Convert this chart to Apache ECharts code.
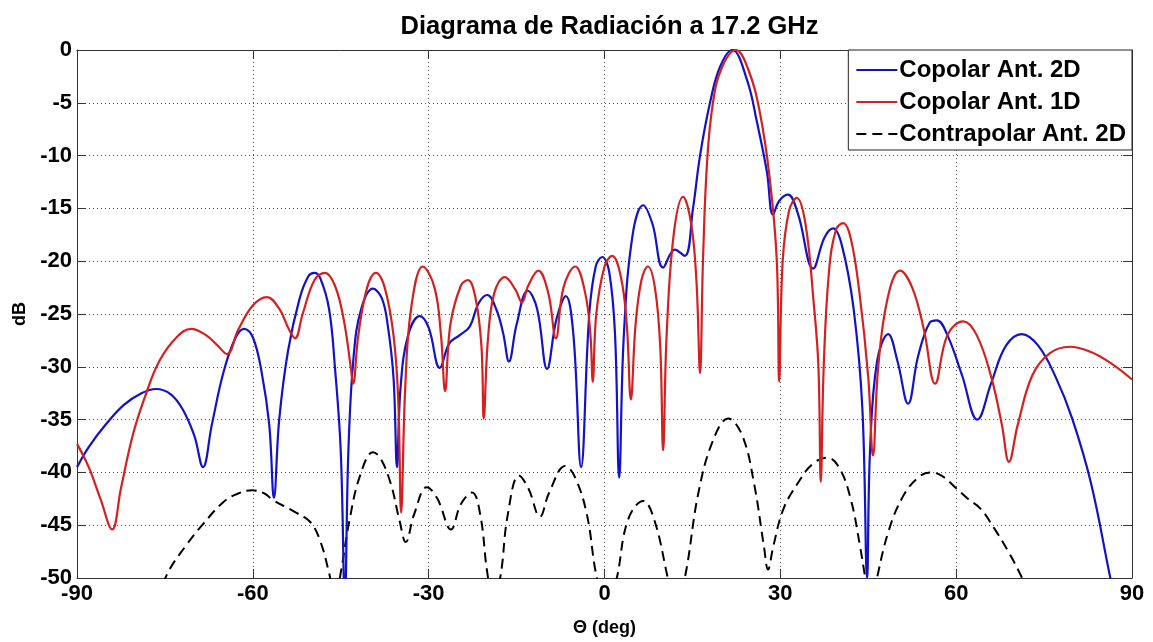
<!DOCTYPE html>
<html>
<head>
<meta charset="utf-8">
<script src="https://cdn.jsdelivr.net/npm/echarts@6/dist/echarts.min.js"></script>
<style>
html,body{margin:0;padding:0;background:#fff;}
#chart{width:1153px;height:642px;}
</style>
</head>
<body>
<div id="chart"></div>
<script>
// ---- data (theta in deg, level in dB) ----
const titleText = 'Diagrama de Radiación a 17.2 GHz';
const seriesNames = ['Copolar Ant. 2D', 'Copolar Ant. 1D', 'Contrapolar Ant. 2D'];
const xTicks = [-90, -60, -30, 0, 30, 60, 90];
const yTicks = [-50, -45, -40, -35, -30, -25, -20, -15, -10, -5, 0];

const copolar2D = [
  [-90,-39.5],[-88,-37.6],[-85,-35.4],[-82,-33.6],[-79,-32.5],[-76.5,-32.1],[-74,-32.6],[-72,-34.0],[-70,-36.5],[-68.5,-39.5],
  [-67,-35.5],[-65,-30.5],[-63,-27.3],[-61.5,-26.4],[-60,-27.2],[-58.5,-30.5],[-57.2,-35.5],[-56.4,-42.4],[-55.5,-35],[-54,-28.5],
  [-52,-23.5],[-50.5,-21.4],[-49.5,-21.1],[-48.5,-21.6],[-47,-24.5],[-46,-30],[-45,-38],[-44.3,-52],[-43.7,-38],[-42.8,-29],
  [-41.5,-24.5],[-39.5,-22.6],[-38,-23.5],[-37,-26],[-36,-31],[-35.4,-39.5],[-34.8,-32],[-33.5,-27],[-31.5,-25.2],[-30,-26.3],
  [-28.1,-30.1],[-26.5,-27.8],[-24.7,-27],[-23,-26.2],[-21.5,-24],[-20,-23.2],[-18.5,-24.5],[-17.3,-26.8],[-16.3,-29.5],[-15,-26],
  [-13.1,-22.8],[-11.5,-24.5],[-9.8,-30.2],[-8.2,-25.5],[-6.6,-23.3],[-5.3,-27],[-4.0,-39.5],[-2.6,-25],[-1.5,-20.5],[-0.4,-19.6],
  [0.8,-21],[1.8,-27],[2.5,-40.5],[3.3,-27],[4.8,-17.5],[6.6,-14.7],[8.2,-16.5],[10,-20.6],[12,-18.9],[13.7,-19.5],
  [15.1,-15],[16.3,-10],[18,-5],[19.7,-1.6],[21.8,0],[24.3,-2.8],[26,-6.8],[27.7,-11.5],[28.75,-15.6],[29.8,-14.3],
  [31.3,-13.7],[33,-15.5],[35.6,-20.7],[37.5,-17.8],[39,-16.9],[40.5,-18.5],[42.5,-24.5],[44,-34],[44.8,-50],[45.3,-38],
  [46.5,-29.5],[48.4,-26.9],[50,-29.5],[51.8,-33.5],[53.5,-29],[55.5,-25.8],[56.7,-25.6],[58.5,-27],[61,-30.8],[63.6,-35.0],
  [66,-31.5],[68.5,-28],[71.2,-26.9],[74,-28],[77,-31],[79.8,-34.9],[83,-41],[86.3,-50],[87.5,-53]
];

const copolar1D = [
  [-90,-37.3],[-88,-39.5],[-86,-42.5],[-84,-45.4],[-82.5,-41.5],[-80.5,-36.5],[-78.5,-33],[-76,-29.5],[-73,-27.2],[-70.5,-26.4],
  [-68,-27],[-66,-28],[-64.4,-28.8],[-62.5,-26.5],[-60,-24.2],[-57.6,-23.4],[-55.5,-24.5],[-53.8,-26.5],[-52.8,-27.3],[-51.5,-25],
  [-49.5,-21.8],[-47.7,-21.1],[-46,-22.3],[-44.5,-25.5],[-43.3,-30],[-42.9,-31.6],[-42,-27],[-40.5,-22.5],[-39,-21.1],[-37.5,-22.5],
  [-36,-27],[-35.2,-33],[-34.7,-43.8],[-34,-32],[-33,-24.5],[-31,-20.5],[-29,-22.5],[-27.9,-27],[-27.2,-32.3],[-26.3,-26],
  [-24.5,-22.3],[-23.3,-21.8],[-22,-23.5],[-21,-28],[-20.6,-34.9],[-19.9,-27.5],[-18.8,-23],[-17,-21.5],[-15.2,-22.7],[-14.1,-23.9],
  [-13,-22.3],[-11.3,-20.9],[-9.6,-23],[-8.3,-27.3],[-7,-22.5],[-5,-20.5],[-3.3,-23],[-2.4,-27],[-2,-31.4],[-1.4,-25],
  [0,-20.5],[1.3,-19.5],[2.8,-21.5],[3.8,-26],[4.5,-33.1],[5.3,-26],[6.3,-21.8],[7.4,-20.5],[8.6,-22.5],[9.5,-28],
  [10.0,-37.9],[10.6,-27],[11.8,-17.5],[13.4,-13.9],[14.8,-16.5],[15.7,-22],[16.3,-30.6],[16.8,-20],[17.5,-10.6],[18.5,-5],
  [20,-1.7],[22.4,0],[24.5,-1.8],[26.5,-5.9],[28.2,-12.2],[29.4,-20],[29.8,-31.4],[30.4,-20],[31.5,-15.2],[32.8,-14.0],
  [34.3,-16.5],[35.7,-24],[36.5,-30],[36.9,-40.9],[37.4,-30],[38.3,-21],[39.5,-17],[40.7,-16.4],[42,-17.8],[43.5,-23],
  [45,-31],[45.8,-38.4],[46.7,-30],[48.3,-23.5],[50.4,-20.9],[52.5,-22.5],[54.5,-26.5],[56.4,-31.6],[58.5,-27],[61.2,-25.7],
  [63.5,-27],[66,-31],[67.8,-35.5],[69,-39],[70.5,-35.5],[73,-30.8],[76,-28.7],[79.4,-28.1],[83,-28.6],[86.5,-29.7],[90,-31.2]
];

const contrapolar2D = [
  [-76,-52],[-74.6,-49.6],[-71.5,-47],[-68.5,-44.9],[-65,-42.8],[-62.5,-42],[-60.1,-41.7],[-58,-42],[-56.6,-42.6],[-53,-43.7],
  [-50.2,-44.7],[-48.5,-46.5],[-47,-49.5],[-46,-52],[-45,-49.5],[-43.5,-44.5],[-41.7,-40.3],[-39.5,-38.1],[-38.3,-38.6],[-36.5,-41],
  [-35,-44.5],[-33.9,-46.6],[-32.5,-44],[-30.3,-41.4],[-28.5,-42.5],[-26.2,-45.4],[-24.5,-43],[-22.6,-41.9],[-21.2,-44],[-20,-49.5],
  [-19,-52],[-17.8,-50],[-16.5,-44],[-14.6,-40.3],[-13,-41.5],[-11,-44.2],[-9.5,-42],[-6.7,-39.4],[-5,-40.5],[-3,-44],
  [-1.3,-50],[0.5,-53],[2.1,-50],[4,-44.5],[6.6,-42.7],[8.5,-44.5],[10.8,-50],[12,-53],[13.7,-50],[16,-42],
  [18.5,-37],[21.1,-34.9],[23.5,-36.5],[25.5,-41],[27.2,-47],[27.9,-49.2],[28.8,-47],[30.5,-43.5],[33,-41],[35.5,-39.2],
  [38,-38.6],[40,-39.5],[42,-42.5],[43.6,-47],[44.5,-50],[45.5,-53],[46.5,-50],[48.5,-45.5],[51,-42.2],[53.5,-40.5],
  [55.5,-40],[57.5,-40.3],[60,-41.5],[62,-42.5],[64.1,-43.4],[66.5,-45.3],[69,-47.6],[70.9,-49.6],[72,-51]
];

// ---- chart ----
const FONT = '"Liberation Sans", Arial, Helvetica, sans-serif';
const chart = echarts.init(document.getElementById('chart'), null, {renderer: 'canvas'});

const gridLine = {show: true, lineStyle: {color: '#555', width: 1, type: [1, 3]}};
const frameLine = {show: true, onZero: false, lineStyle: {color: '#333', width: 1}};
const tickStyle = {show: true, inside: true, length: 9, lineStyle: {color: '#333'}};

chart.setOption({
  animation: false,
  backgroundColor: '#fff',
  title: {
    text: titleText,
    left: 604.5, top: 9, textAlign: 'center',
    textStyle: {fontFamily: FONT, fontSize: 25.5, fontWeight: 'bold', color: '#000'}
  },
  legend: {
    orient: 'vertical',
    right: 21, top: 50,
    padding: [8, 6, 4, 7],
    itemGap: 8,
    itemWidth: 41, itemHeight: 14,
    backgroundColor: '#fff',
    borderColor: '#222', borderWidth: 1, borderRadius: 0,
    itemStyle: {opacity: 0},
    textStyle: {fontFamily: FONT, fontSize: 24, fontWeight: 'bold', color: '#000', padding: [0, 0, 0, -3]},
    data: seriesNames
  },
  grid: {left: 77, right: 21, top: 50, bottom: 58, containLabel: false},
  xAxis: [
    {
      type: 'value', min: -90, max: 90, interval: 30, position: 'bottom',
      name: 'Θ (deg)', nameLocation: 'middle', nameGap: 41,
      nameTextStyle: {fontFamily: FONT, fontSize: 18, fontWeight: 'bold', color: '#000'},
      axisLine: frameLine, axisTick: tickStyle,
      axisLabel: {fontFamily: FONT, fontSize: 22, fontWeight: 'bold', color: '#000', margin: 5,
        formatter: v => xTicks.includes(v) ? String(v) : ''},
      splitLine: gridLine
    },
    {
      type: 'value', min: -90, max: 90, interval: 30, position: 'top',
      axisLine: frameLine, axisTick: tickStyle,
      axisLabel: {show: false}, splitLine: {show: false}
    }
  ],
  yAxis: [
    {
      type: 'value', min: -50, max: 0, interval: 5, position: 'left',
      name: 'dB', nameLocation: 'middle', nameGap: 43, nameRotate: 90,
      nameTextStyle: {fontFamily: FONT, fontSize: 18, fontWeight: 'bold', color: '#000'},
      axisLine: frameLine, axisTick: tickStyle,
      axisLabel: {fontFamily: FONT, fontSize: 22, fontWeight: 'bold', color: '#000', margin: 5,
        formatter: v => yTicks.includes(v) ? String(v) : ''},
      splitLine: gridLine
    },
    {
      type: 'value', min: -50, max: 0, interval: 5, position: 'right',
      axisLine: frameLine, axisTick: tickStyle,
      axisLabel: {show: false}, splitLine: {show: false}
    }
  ],
  series: [
    {
      name: seriesNames[0], type: 'line', data: copolar2D, xAxisIndex: 0, yAxisIndex: 0,
      symbol: 'none', smooth: 0.4, clip: true,
      lineStyle: {color: '#1212c8', width: 2.2}, itemStyle: {color: '#1212c8'}, z: 3
    },
    {
      name: seriesNames[1], type: 'line', data: copolar1D, xAxisIndex: 0, yAxisIndex: 0,
      symbol: 'none', smooth: 0.4, clip: true,
      lineStyle: {color: '#d42020', width: 2.2}, itemStyle: {color: '#d42020'}, z: 4
    },
    {
      name: seriesNames[2], type: 'line', data: contrapolar2D, xAxisIndex: 0, yAxisIndex: 0,
      symbol: 'none', smooth: 0.4, clip: true,
      lineStyle: {color: '#000', width: 2, type: [10, 6]}, itemStyle: {color: '#000'}, z: 2
    }
  ]
});
</script>
</body>
</html>
